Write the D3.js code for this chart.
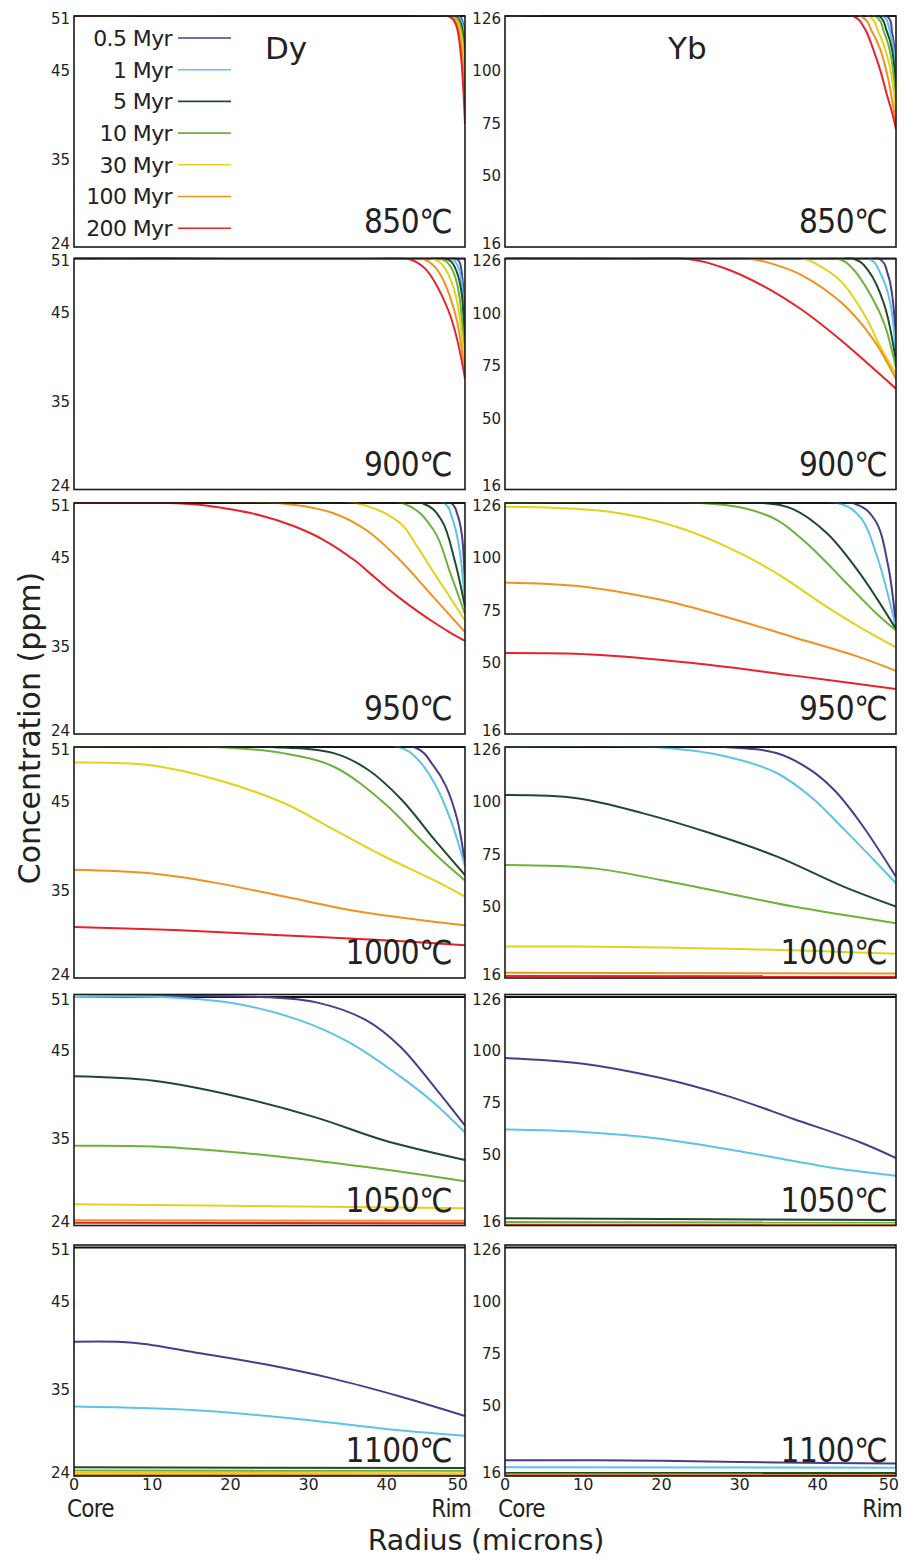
<!DOCTYPE html>
<html>
<head>
<meta charset="utf-8">
<script src="https://cdn.jsdelivr.net/npm/d3@7"></script>
<style>
  html, body { margin: 0; padding: 0; background: #fff; }
  svg { display: block; }
  text { font-family: "DejaVu Sans", sans-serif; fill: #222; }
</style>
</head>
<body>
<svg id="chart" width="906" height="1562"></svg>
<script>
// ---- series definitions ----
const ages = ["0.5 Myr", "1 Myr", "5 Myr", "10 Myr", "30 Myr", "100 Myr", "200 Myr"];
const ageColors = ["#4a3c8c", "#5ec3e6", "#1e4a2c", "#6cb23c", "#e2d21c", "#f0921f", "#e6232d"];
const temperatures = ["850℃", "900℃", "950℃", "1000℃", "1050℃", "1100℃"];
const elements = ["Dy", "Yb"];

// axis ticks
const dyTicks = [24, 35, 45, 51];
const ybTicks = [16, 50, 75, 100, 126];
const radiusTicks = [0, 10, 20, 30, 40, 50];

// initial (core) concentrations, ppm
const dyInitial = 51;
const ybInitial = 126;

// profiles: for each age, [radius (microns), concentration (ppm)] pairs
const dy850 = [
  [[0, 51], [49, 51], [49.5, 50.8], [50, 48.5]],
  [[0, 51], [48.8, 51], [49.5, 50.5], [50, 47.5]],
  [[0, 51], [48.6, 51], [49, 50.8], [49.5, 50.1], [50, 46.5]],
  [[0, 51], [48.4, 51], [49, 50.7], [49.5, 49.6], [50, 45]],
  [[0, 51], [48.2, 51], [49, 50.4], [49.5, 48.8], [50, 43]],
  [[0, 51], [48, 51], [48.5, 50.8], [49, 50], [49.5, 47.8], [50, 41]],
  [[0, 51], [47.8, 51], [48.5, 50.6], [49, 49.6], [49.5, 46.5], [50, 39]]
];
const yb850 = [
  [[0, 126], [48.8, 126], [49.5, 118], [50, 102]],
  [[0, 126], [48.3, 126], [49.2, 119], [49.7, 110], [50, 96]],
  [[0, 126], [47.8, 126], [48.8, 119], [49.5, 110], [50, 90]],
  [[0, 126], [47.3, 126], [48.5, 118], [49.3, 108], [50, 86]],
  [[0, 126], [46.5, 126], [47.8, 118], [48.8, 108], [49.5, 96], [50, 80]],
  [[0, 126], [45.5, 126], [47, 118], [48, 110], [49, 96], [49.5, 86], [50, 75]],
  [[0, 126], [44.5, 126], [46, 120], [47.1, 110], [48, 100], [48.8, 89], [49.5, 80], [50, 72]]
];
const dy900 = [
  [[0, 51], [48.8, 51], [49.3, 50.6], [49.7, 48.5], [50, 41.5]],
  [[0, 51], [48.2, 51], [49, 50.3], [49.5, 48.8], [50, 40.5]],
  [[0, 51], [47.4, 51], [48.3, 50.6], [49, 49.4], [49.6, 47], [50, 39.8]],
  [[0, 51], [46.8, 51], [48, 50.3], [49, 48.2], [50, 39.3]],
  [[0, 51], [45.8, 51], [47, 50.4], [48, 49], [49, 46.2], [50, 38.8]],
  [[0, 51], [44.5, 51], [46, 50.2], [47, 49], [48, 47], [49, 44], [50, 38.2]],
  [[0, 51], [42.5, 51], [44, 50.5], [45, 49.8], [46, 48.6], [47, 47], [48, 45], [49, 42], [50, 37.6]]
];
const yb900 = [
  [[0, 126], [47.8, 126], [49, 118], [49.6, 106], [50, 84]],
  [[0, 126], [46.5, 126], [48, 119], [49.2, 106], [50, 80]],
  [[0, 126], [44.5, 126], [46.5, 120], [48.5, 104], [50, 77]],
  [[0, 126], [42.5, 126], [44.5, 121], [47, 107], [48.5, 95], [50, 74]],
  [[0, 126], [38, 126], [40, 123], [43, 115], [46, 99], [48, 84], [50, 71]],
  [[0, 126], [31, 126], [35, 122.5], [38, 118], [43, 105], [47, 88], [50, 68.6]],
  [[0, 126], [23, 126], [28, 121.5], [33, 113], [38, 101.5], [43, 87], [47, 74], [50, 64]]
];
const dy950 = [
  [[0, 51], [48.2, 51], [49, 49.8], [49.6, 47.5], [50, 41]],
  [[0, 51], [47.3, 51], [48.3, 49.5], [49.2, 46.4], [50, 39.8]],
  [[0, 51], [44.5, 51], [47, 49.1], [48.7, 44.6], [50, 39.4]],
  [[0, 51], [42, 51], [46, 48], [48.1, 43.3], [50, 38.6]],
  [[0, 51], [36, 51], [41.7, 48.8], [43.9, 46.2], [46, 43.3], [48.1, 40.5], [50, 37.9]],
  [[0, 51], [26, 51], [33.1, 49.9], [37.4, 48], [41.7, 44.7], [46, 40.5], [50, 36.6]],
  [[0, 51], [12, 51], [16, 50.8], [20, 50.3], [24, 49.6], [28, 48.5], [32, 46.9], [36, 44.6],
   [38, 43.1], [40, 41.6], [42, 40.2], [44, 38.9], [46, 37.7], [48, 36.6], [50, 35.6]]
];
const yb950 = [
  [[0, 126], [44.5, 126], [47.3, 117.9], [49, 96], [50, 67]],
  [[0, 126], [42.5, 126], [45.4, 119.4], [47.6, 100.3], [50, 66.5]],
  [[0, 126], [33, 126], [36.9, 123], [41.2, 111.5], [45.4, 92.4], [50, 66]],
  [[0, 126], [25, 126], [30.5, 123.6], [34.8, 117.9], [39.1, 105.1], [43.3, 89.2], [47.6, 73], [50, 65.3]],
  [[0, 124.2], [13.4, 121.8], [21.9, 114.7], [28.4, 105.1], [34.8, 92.4], [41.2, 76.4], [45.4, 66.8], [50, 57.3]],
  [[0, 88.1], [9.3, 86.5], [19.8, 80], [28.4, 71.6], [36.9, 62.1], [45.4, 52.5], [50, 46.1]],
  [[0, 54.6], [11, 53.9], [24, 49.8], [37, 43.8], [50, 37.4]]
];
const dy1000 = [
  [[0, 51], [43.5, 51], [46, 48.9], [47.5, 46.8], [49, 43], [50, 38]],
  [[0, 51], [41.5, 51], [44, 49.6], [46.1, 47], [48.3, 42.6], [50, 37.7]],
  [[0, 51], [25, 51], [33.3, 50.3], [37.6, 48.5], [41.9, 45.2], [46.1, 40.7], [50, 36.7]],
  [[0, 51], [18, 51], [26.9, 50.3], [33.3, 48.8], [39.7, 44.8], [44, 41], [47, 38.4], [50, 36.1]],
  [[0, 49.3], [9.8, 49], [18.3, 47.4], [26.9, 44.8], [33.3, 41.8], [39.7, 38.8], [46.1, 36.1], [50, 34.2]],
  [[0, 37.3], [9.8, 36.9], [18.3, 35.8], [26.9, 34.2], [35.4, 32.5], [44, 31.3], [50, 30.6]],
  [[0, 30.4], [12.9, 30], [25.7, 29.4], [38.5, 28.8], [50, 28.1]]
];
const yb1000 = [
  [[0, 126], [28, 126], [34.8, 123], [39.1, 115], [42.1, 105.5], [45.5, 89.7], [50, 64.2]],
  [[0, 126], [19, 126], [28.4, 121.4], [34.8, 113.5], [39.1, 102.3], [43.3, 87], [47.6, 70.5], [50, 61.1]],
  [[0, 103.1], [9.2, 101.6], [17.7, 94.4], [26.3, 84.9], [34.8, 73.8], [43.3, 59.5], [50, 50]],
  [[0, 69.8], [11.3, 68.2], [19.9, 62.7], [28.4, 56.4], [36.9, 50], [50, 42.1]],
  [[0, 31], [15, 30.8], [30, 29.8], [40, 28.8], [50, 27.5]],
  [[0, 18.5], [50, 18.1]],
  [[0, 17], [50, 16.8]]
];
const dy1050 = [
  [[0, 51], [24, 51], [31, 50.4], [37.4, 48.4], [41.7, 45.5], [46, 41], [50, 36.5]],
  [[0, 51], [11, 51], [20.4, 50.3], [28.9, 48.4], [35.3, 45.9], [41.7, 42.1], [46, 39.1], [50, 35.7]],
  [[0, 42.1], [10.2, 41.6], [20.4, 39.9], [31, 37.4], [39.6, 34.8], [50, 32.3]],
  [[0, 34.1], [10.2, 34], [24.6, 32.9], [37.4, 31.4], [50, 29.6]],
  [[0, 26.7], [50, 26.2]],
  [[0, 24.65], [50, 24.6]],
  [[0, 24.35], [50, 24.3]]
];
const yb1050 = [
  [[0, 96.6], [10, 93.9], [19.8, 87.1], [28.4, 78.4], [36.9, 67.3], [45.4, 56.1], [50, 48.5]],
  [[0, 62.2], [10, 61], [19.8, 57.8], [30.5, 51.4], [41.2, 44.2], [50, 40]],
  [[0, 19.5], [50, 18.6]],
  [[0, 17.7], [50, 17.4]],
  [[0, 16.6], [50, 16.5]],
  [[0, 16.3], [50, 16.2]],
  [[0, 16.1], [50, 16]]
];
const dy1100 = [
  [[0, 40.4], [7.6, 40.3], [16.1, 39.1], [24.6, 37.8], [33.1, 36.2], [41.6, 34.1], [50, 31.6]],
  [[0, 32.8], [16.1, 32.3], [28.9, 31.2], [39.6, 30], [50, 29.1]],
  [[0, 25.1], [50, 25]],
  [[0, 24.7], [50, 24.65]],
  [[0, 24.4], [50, 24.35]],
  [[0, 24.15], [50, 24.1]],
  [[0, 24], [50, 24]]
];
const yb1100 = [
  [[0, 23.6], [20, 23.4], [35, 22.5], [50, 22]],
  [[0, 20.2], [50, 20]],
  [[0, 17.5], [50, 17.4]],
  [[0, 16.8], [50, 16.7]],
  [[0, 16.4], [50, 16.4]],
  [[0, 16.2], [50, 16.2]],
  [[0, 16.1], [50, 16.1]]
];

const dyPanels = [dy850, dy900, dy950, dy1000, dy1050, dy1100];
const ybPanels = [yb850, yb900, yb950, yb1000, yb1050, yb1100];

// ---- layout ----
const svg = d3.select("#chart");
const rowTops = [16, 258.5, 503, 747, 994.5, 1245];
const panelH = 231;
const headroom = [0, 0, 0, 0, 2.5, 2.5];
const columns = [
  { x0: 74, x1: 465, panels: dyPanels, ticks: dyTicks, top: dyInitial, label: elements[0], labelX: 265 },
  { x0: 505, x1: 896, panels: ybPanels, ticks: ybTicks, top: ybInitial, label: elements[1], labelX: 668 }
];
// fractional heights of the Dy tick marks (axis is piecewise linear)
const dyTickFrac = { 51: 0, 45: 0.236, 35: 0.62, 24: 1 };
const condensed = "'DejaVu Sans Condensed', 'DejaVu Sans', sans-serif";

const defs = svg.append("defs");

columns.forEach((col, c) => {
  const x = d3.scaleLinear().domain([0, 50]).range([col.x0, col.x1]);
  const tMin = d3.min(col.ticks), tMax = d3.max(col.ticks);

  rowTops.forEach((top, r) => {
    const bottom = top + panelH;
    const yTop = top + headroom[r];
    const h = bottom - yTop;
    let y;
    if (c === 0) {
      y = d3.scaleLinear()
        .domain(dyTicks)
        .range(dyTicks.map(v => yTop + dyTickFrac[v] * h));
    } else {
      y = d3.scaleLinear().domain([16, 126]).range([bottom, yTop]);
    }

    const g = svg.append("g");
    const clipId = `clip-${c}-${r}`;
    defs.append("clipPath").attr("id", clipId)
      .append("rect")
      .attr("x", col.x0).attr("y", top - 1)
      .attr("width", col.x1 - col.x0).attr("height", panelH + 1);

    const plot = g.append("g").attr("clip-path", `url(#${clipId})`);

    // initial flat profile
    plot.append("line")
      .attr("x1", x(0)).attr("x2", x(50))
      .attr("y1", y(col.top)).attr("y2", y(col.top))
      .attr("stroke", "#111").attr("stroke-width", 2.2);

    const line = d3.line()
      .x(d => x(d[0]))
      .y(d => y(d[1]))
      .curve(d3.curveCatmullRom.alpha(0.5));

    col.panels[r].forEach((series, i) => {
      plot.append("path")
        .datum(series)
        .attr("d", line)
        .attr("fill", "none")
        .attr("stroke", ageColors[i])
        .attr("stroke-width", 2)
        .attr("stroke-linejoin", "round");
    });

    // frame
    g.append("rect")
      .attr("x", col.x0).attr("y", top)
      .attr("width", col.x1 - col.x0).attr("height", panelH)
      .attr("fill", "none").attr("stroke", "#1a1a1a").attr("stroke-width", 1.6);

    // y tick labels (end labels nudged inside the panel)
    g.selectAll("text.ytick")
      .data(col.ticks)
      .join("text")
      .attr("class", "ytick")
      .attr("x", col.x0 - 4)
      .attr("y", d => y(d) + (d === tMax ? 2.5 : d === tMin ? -3.5 : 0))
      .attr("dy", "0.36em")
      .attr("text-anchor", "end")
      .style("font-size", "15px")
      .text(d => d);

    // temperature
    g.append("text")
      .attr("x", col.x1 - (c === 0 ? 13 : 9))
      .attr("y", bottom - 14)
      .attr("text-anchor", "end")
      .style("font-family", condensed)
      .style("font-stretch", "condensed")
      .style("font-size", "33px")
      .style("letter-spacing", "-0.5px")
      .text(temperatures[r]);

    // x axis labels on the bottom row
    if (r === rowTops.length - 1) {
      g.selectAll("text.xtick")
        .data(radiusTicks)
        .join("text")
        .attr("class", "xtick")
        .attr("x", d => d === 50 ? x(d) + 3 : x(d))
        .attr("y", bottom + 14)
        .attr("text-anchor", d => d === 50 ? "end" : "middle")
        .style("font-size", "16px")
        .text(d => d);
      g.append("text")
        .attr("x", col.x0 - 7).attr("y", bottom + 41)
        .style("font-family", condensed)
        .style("font-stretch", "condensed")
        .style("font-size", "24px")
        .style("letter-spacing", "-0.8px")
        .text("Core");
      g.append("text")
        .attr("x", col.x1 + 6).attr("y", bottom + 41)
        .attr("text-anchor", "end")
        .style("font-family", condensed)
        .style("font-stretch", "condensed")
        .style("font-size", "24px")
        .style("letter-spacing", "-0.8px")
        .text("Rim");
    }
  });

  // element name
  svg.append("text")
    .attr("x", col.labelX).attr("y", 59)
    .style("font-size", "31px")
    .text(col.label);
});

// legend
const legend = svg.append("g");
ages.forEach((a, i) => {
  const yy = 38 + i * 31.7;
  legend.append("text")
    .attr("x", 172).attr("y", yy).attr("dy", "0.36em")
    .attr("text-anchor", "end")
    .style("font-size", "22px")
    .style("letter-spacing", "-0.6px")
    .text(a);
  legend.append("line")
    .attr("x1", 178).attr("x2", 231)
    .attr("y1", yy).attr("y2", yy)
    .attr("stroke", ageColors[i]).attr("stroke-width", 1.6);
});

// axis titles
svg.append("text")
  .attr("transform", "translate(40,728) rotate(-90)")
  .attr("text-anchor", "middle")
  .style("font-size", "30px")
  .text("Concentration (ppm)");

svg.append("text")
  .attr("x", 486).attr("y", 1550)
  .attr("text-anchor", "middle")
  .style("font-size", "28.5px")
  .style("letter-spacing", "-0.2px")
  .text("Radius (microns)");
</script>
</body>
</html>
